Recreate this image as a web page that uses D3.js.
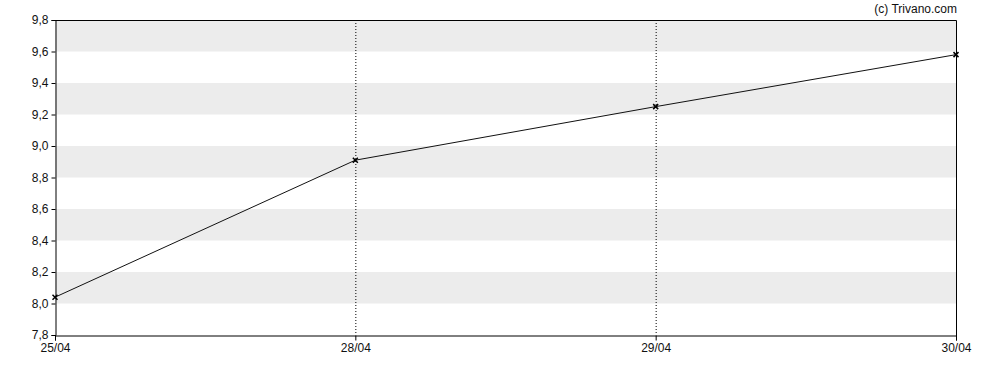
<!DOCTYPE html>
<html lang="en">
<head>
  <meta charset="UTF-8">
  <title>Chart</title>
  <style>
    body { margin: 0; background: #fff; }
    text { font-family: "Liberation Sans", Arial, sans-serif; font-size: 12px; fill: #111; }
  </style>
</head>
<body>
  <script src="https://cdn.jsdelivr.net/npm/d3@7/dist/d3.min.js"></script>
  <script>
    const width = 988, height = 370

    const dates = ["25/04", "28/04", "29/04", "30/04"]
    const values = [8.04, 8.91, 9.25, 9.58]
    const yTicks = [7.8, 8.0, 8.2, 8.4, 8.6, 8.8, 9.0, 9.2, 9.4, 9.6, 9.8]

    const m = {left: 55, right: 32, top: 20, bottom: 35}

    const svg = d3.select("body").append("svg")
      .attr("width", width).attr("height", height)

    const x = d3.scalePoint().domain(dates).range([m.left, width - m.right])
    const y = d3.scaleLinear().domain([7.8, 9.8]).range([height - m.bottom, m.top])

    // grey bands
    svg.append("g").selectAll("rect")
      .data(yTicks.filter((d, i) => i % 2 === 1 && i < yTicks.length - 1))
      .enter().append("rect")
      .attr("x", m.left).attr("width", x.range()[1] - m.left)
      .attr("y", d => y(d + 0.2)).attr("height", d => y(d) - y(d + 0.2))
      .attr("fill", "#ececec")

    // dotted verticals
    svg.append("g").selectAll("line")
      .data(dates.slice(1, -1))
      .enter().append("line")
      .attr("x1", d => x(d) + 0.5).attr("x2", d => x(d) + 0.5)
      .attr("y1", m.top).attr("y2", height - m.bottom)
      .attr("stroke", "#000").attr("stroke-dasharray", "1,2")

    // frame top/right
    svg.append("path")
      .attr("d", `M${m.left},${m.top + 0.5}H${x.range()[1] + 0.5}V${height - m.bottom + 5}`)
      .attr("fill", "none").attr("stroke", "#000")

    const yAxis = svg.append("g")
      .attr("transform", `translate(${m.left + 0.5},0)`)
      .call(d3.axisLeft(y).tickValues(yTicks).tickSize(4).tickPadding(3)
        .tickFormat(d => d3.format(".1f")(d).replace(".", ",")))
    yAxis.select(".domain").attr("stroke", "#000")

    const xAxis = svg.append("g")
      .attr("transform", `translate(0,${height - m.bottom + 0.5})`)
      .call(d3.axisBottom(x).tickSize(5).tickPadding(3))
    xAxis.select(".domain").attr("stroke", "#000")
    svg.selectAll(".tick text").style("font-family", "'Liberation Sans', Arial, sans-serif")
      .style("font-size", "12px").attr("fill", "#111")

    const line = d3.line().x((d, i) => x(dates[i])).y(d => y(d))
    svg.append("path").datum(values)
      .attr("d", line).attr("fill", "none").attr("stroke", "#111").attr("stroke-width", 1)

    const s = 2.5
    svg.append("g").selectAll("path")
      .data(values).enter().append("path")
      .attr("d", (d, i) => {
        const cx = x(dates[i]), cy = y(d)
        return `M${cx - s},${cy - s}L${cx + s},${cy + s}M${cx - s},${cy + s}L${cx + s},${cy - s}`
      })
      .attr("stroke", "#000").attr("stroke-width", 1.5)

    svg.append("text")
      .attr("x", 957).attr("y", 13).attr("text-anchor", "end")
      .text("(c) Trivano.com")
  </script>
</body>
</html>
